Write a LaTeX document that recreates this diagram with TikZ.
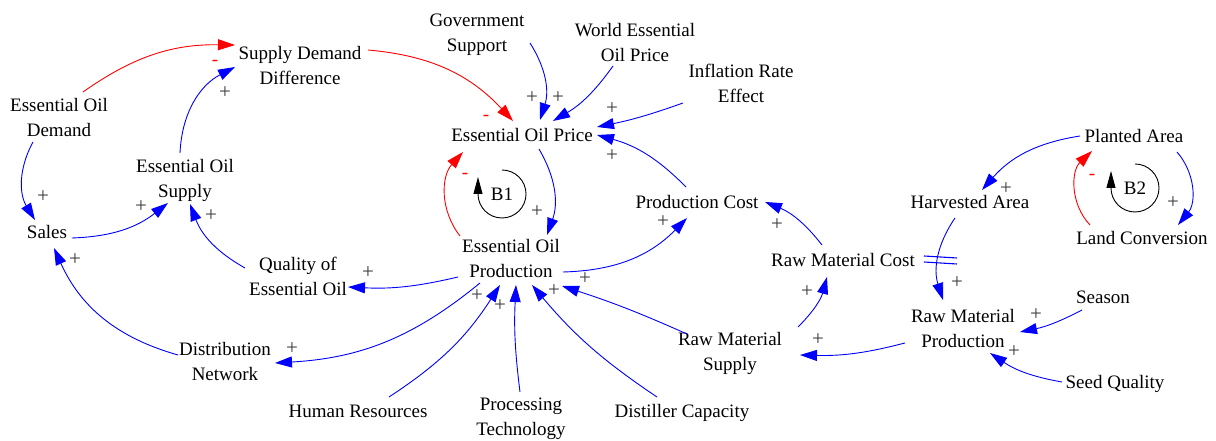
\documentclass[tikz,border=0pt]{standalone}
\usepackage{fontspec}
\setmainfont{Liberation Serif}
\usetikzlibrary{arrows.meta}
\definecolor{lkblue}{RGB}{0,0,255}
\definecolor{lkred}{RGB}{255,0,0}
\definecolor{plgray}{RGB}{60,60,60}
\begin{document}
\begin{tikzpicture}[x=1pt,y=1pt,
  var/.style={font=\fontsize{19}{25}\selectfont, align=center, inner sep=0pt},
  lk/.style={draw=lkblue, line width=0.9pt, -{Triangle[length=17pt,width=11pt]}},
  ng/.style={lk, draw=lkred},
  pl/.style={font=\fontsize{21}{21}\selectfont, text=plgray, inner sep=0pt},
  mi/.style={font=\fontsize{19}{19}\selectfont, text=lkred, inner sep=0pt},
  loopar/.style={draw=black, line width=0.9pt, -{Triangle[length=17pt,width=9pt]}}]
\useasboundingbox (0,0) rectangle (1216,441);
% variables
\node[var] (sdd) at (300,375) {Supply Demand\\Difference};
\node[var] (dem) at (59,323.5) {Essential Oil\\Demand};
\node[var] (gov) at (477,406.5) {Government\\Support};
\node[var] (wep) at (635,398.5) {World Essential\\Oil Price};
\node[var] (inf) at (741,358) {Inflation Rate\\Effect};
\node[var] (eop) at (522,306) {Essential Oil Price};
\node[var] (sup) at (185,260.5) {Essential Oil\\Supply};
\node[var] (pla) at (1134,305) {Planted Area};
\node[var] (har) at (970,238.5) {Harvested Area};
\node[var] (lan) at (1142,203) {Land Conversion};
\node[var] (sal) at (47,208.5) {Sales};
\node[var] (pc) at (697,238.5) {Production Cost};
\node[var] (prod) at (511,182) {Essential Oil\\Production};
\node[var] (rmc) at (843,181) {Raw Material Cost};
\node[var] (qual) at (298,165) {Quality of\\Essential Oil};
\node[var] (sea) at (1103,143.5) {Season};
\node[var] (rmp) at (963,112.5) {Raw Material\\Production};
\node[var] (rms) at (730,87.5) {Raw Material\\Supply};
\node[var] (dn) at (225,79.5) {Distribution\\Network};
\node[var] (seed) at (1115,57) {Seed Quality};
\node[var] (hr) at (358,30) {Human Resources};
\node[var] (pt) at (521,22.5) {Processing\\Technology};
\node[var] (dc) at (682,28) {Distiller Capacity};
% loop markers
\node[var] (b1) at (502,247) {B1};
\node[var] (b2) at (1135,253) {B2};
\draw[loopar] ([shift={(90:24)}]b1.center) arc[start angle=90,end angle=-180,radius=24] -- ++(0,17);
\draw[loopar] ([shift={(90:24)}]b2.center) arc[start angle=90,end angle=-180,radius=24] -- ++(0,17);
% links
\draw[ng] ([shift={(24,25.5)}]dem.center) to[bend left=18] ([shift={(-65,21)}]sdd.center);
\draw[lk] ([shift={(-5,27.5)}]sup.center) to[bend left=30] ([shift={(-65,-1)}]sdd.center);
\draw[ng] ([shift={(68,16)}]sdd.center) to[bend left=21] ([shift={(-9,14)}]eop.center);
\draw[lk] ([shift={(53,-8.5)}]gov.center) to[bend left=25] ([shift={(18,15)}]eop.center);
\draw[lk] ([shift={(-22,-23.5)}]wep.center) to[bend left=12] ([shift={(31,14)}]eop.center);
\draw[lk] ([shift={(-58,-20)}]inf.center) to[bend left=4] ([shift={(75,8)}]eop.center);
\draw[lk] ([shift={(-11,15.5)}]pc.center) to[bend right=15] ([shift={(75,0)}]eop.center);
\draw[lk] ([shift={(17,-14)}]eop.center) to[bend left=25] ([shift={(36,24)}]prod.center);
\draw[ng] ([shift={(-51,23)}]prod.center) to[bend left=40] ([shift={(-59,-17)}]eop.center);
\draw[lk] ([shift={(25,-5.5)}]sal.center) to[bend right=18] ([shift={(-17,-22.5)}]sup.center);
\draw[lk] ([shift={(-26,-24.5)}]dem.center) to[bend right=30] ([shift={(-12,12.5)}]sal.center);
\draw[lk] ([shift={(-53,8)}]qual.center) to[bend left=20] ([shift={(5,-23.5)}]sup.center);
\draw[lk] ([shift={(-53,-18)}]prod.center) to[bend left=8] ([shift={(50,-11)}]qual.center);
\draw[lk] ([shift={(52,-13)}]prod.center) to[bend right=22] ([shift={(-10,-15.5)}]pc.center);
\draw[lk] ([shift={(-31,-24)}]prod.center) to[bend left=18] ([shift={(50,-1.5)}]dn.center);
\draw[lk] ([shift={(-47,6.5)}]dn.center) to[bend left=25] ([shift={(7,-15.5)}]sal.center);
\draw[lk] ([shift={(31,14)}]hr.center) to[bend right=12] ([shift={(-11,-26)}]prod.center);
\draw[lk] ([shift={(-1,26.5)}]pt.center) to[bend left=5] ([shift={(5,-26)}]prod.center);
\draw[lk] ([shift={(-25,16)}]dc.center) to[bend left=8] ([shift={(21,-26)}]prod.center);
\draw[lk] ([shift={(-43,19.5)}]rms.center) to[bend right=3] ([shift={(51,-27)}]prod.center);
\draw[lk] ([shift={(68,26.5)}]rms.center) to[bend right=15] ([shift={(-16,-17)}]rmc.center);
\draw[lk] ([shift={(-21,15)}]rmc.center) to[bend right=15] ([shift={(68,0.5)}]pc.center);
\draw[lk] ([shift={(-58,-14.5)}]rmp.center) to[bend left=8] ([shift={(70,-1.5)}]rms.center);
\draw[lk] ([shift={(-15,-15.5)}]har.center) to[bend right=26] ([shift={(-20,28.5)}]rmp.center);
\draw[lk] ([shift={(-54,0)}]pla.center) to[bend right=20] ([shift={(12,12.5)}]har.center);
\draw[ng] ([shift={(-52,13)}]lan.center) to[bend left=45] ([shift={(-42,-15)}]pla.center);
\draw[lk] ([shift={(43,-16)}]pla.center) to[bend left=40] ([shift={(36,13)}]lan.center);
\draw[lk] ([shift={(-21,-12.5)}]sea.center) to[bend left=8] ([shift={(57,-3.5)}]rmp.center);
\draw[lk] ([shift={(-53,2)}]seed.center) to[bend left=12] ([shift={(27,-24.5)}]rmp.center);
% delay mark
\draw[draw=lkblue, line width=1.1pt] ([shift={(-46,-53.5)}]har.center) -- ([shift={(-13,-55.5)}]har.center);
\draw[draw=lkblue, line width=1.1pt] ([shift={(-46,-59.5)}]har.center) -- ([shift={(-13,-61.5)}]har.center);
% polarities
\node[pl] (p1) at (225,348) {+};
\node[mi] (p2) at (215,378) {-};
\node[mi] (p3) at (486,323) {-};
\node[pl] (p4) at (532,343) {+};
\node[pl] (p5) at (558,343) {+};
\node[pl] (p6) at (612,332) {+};
\node[pl] (p7) at (612,285) {+};
\node[pl] (p8) at (537,229) {+};
\node[mi] (p9) at (465,265) {-};
\node[pl] (p10) at (43,244) {+};
\node[pl] (p11) at (141,234) {+};
\node[pl] (p12) at (211,225) {+};
\node[pl] (p13) at (75,181) {+};
\node[pl] (p14) at (368,168) {+};
\node[pl] (p15) at (292,92) {+};
\node[pl] (p16) at (663,219) {+};
\node[pl] (p17) at (777,216) {+};
\node[pl] (p18) at (585,162) {+};
\node[pl] (p19) at (554,150) {+};
\node[pl] (p20) at (477,145) {+};
\node[pl] (p21) at (500,135) {+};
\node[pl] (p22) at (807,149) {+};
\node[pl] (p23) at (818,101) {+};
\node[pl] (p24) at (957,158) {+};
\node[pl] (p25) at (1036,126) {+};
\node[pl] (p26) at (1014,89) {+};
\node[pl] (p27) at (1006,252) {+};
\node[mi] (p28) at (1092,264) {-};
\node[pl] (p29) at (1173,238) {+};
\end{tikzpicture}
\end{document}
